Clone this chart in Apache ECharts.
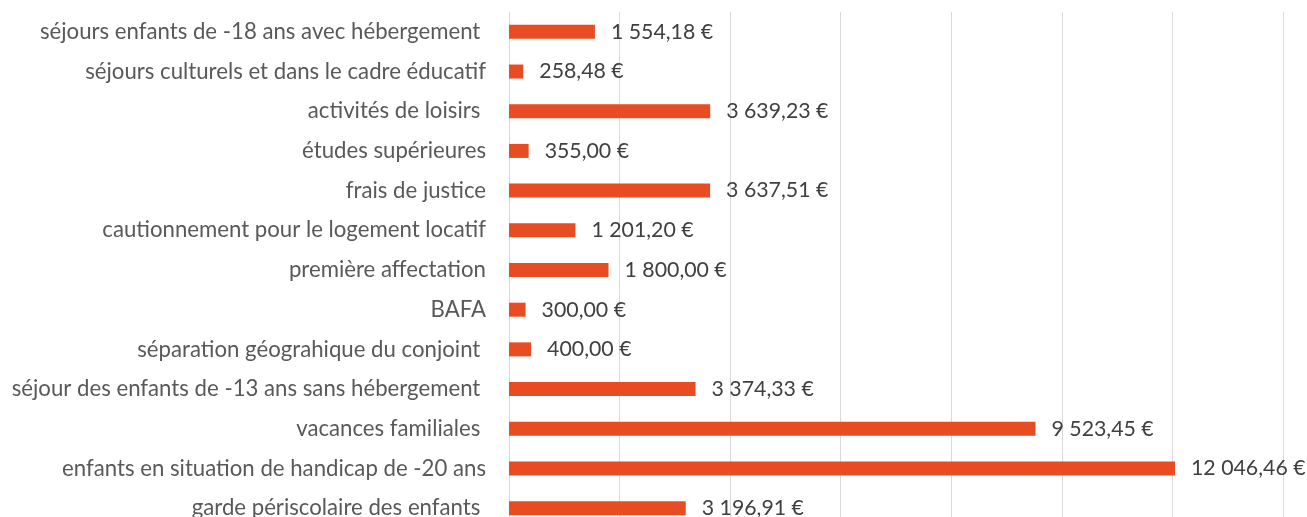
<!DOCTYPE html>
<html>
<head>
<meta charset="utf-8">
<script src="https://cdn.jsdelivr.net/npm/echarts@6/dist/echarts.min.js"></script>
<style>
  html, body { margin: 0; padding: 0; background: #ffffff; }
  #chart { width: 1307px; height: 517px; }
</style>
</head>
<body>
<div id="chart"></div>
<script>
// Aid categories, listed top to bottom
const categories = [
  'séjours enfants de -18 ans avec hébergement ',
  'séjours culturels et dans le cadre éducatif',
  'activités de loisirs ',
  'études supérieures',
  'frais de justice',
  'cautionnement pour le logement locatif',
  'première affectation',
  'BAFA',
  'séparation géograhique du conjoint ',
  'séjour des enfants de -13 ans sans hébergement ',
  'vacances familiales ',
  'enfants en situation de handicap de -20 ans',
  'garde périscolaire des enfants '
];

// Amount spent per category, in euros
const amounts = [
  1554.18, 258.48, 3639.23, 355.00, 3637.51, 1201.20, 1800.00,
  300.00, 400.00, 3374.33, 9523.45, 12046.46, 3196.91
];

// Value axis ticks
const axisMin = 0;
const axisMax = 14000;
const axisStep = 2000;

function euro(v) {
  const parts = v.toFixed(2).split('.');
  const intPart = parts[0].replace(/\B(?=(\d{3})+(?!\d))/g, ' ');
  return intPart + ',' + parts[1] + ' €';
}

const chart = echarts.init(document.getElementById('chart'), null, { renderer: 'canvas' });
chart.setOption({
  animation: false,
  backgroundColor: '#ffffff',
  textStyle: { fontFamily: 'Lato, "Open Sans", sans-serif' },
  // plot area runs past the bottom edge so the last row is cut off
  grid: {
    left: 509, width: 774, top: 12, height: 516,
    containLabel: false,
    outerBoundsMode: 'none'
  },
  xAxis: {
    type: 'value',
    min: axisMin,
    max: axisMax,
    interval: axisStep,
    axisLabel: { show: false },
    axisLine: { show: false },
    axisTick: { show: false },
    splitLine: { show: true, lineStyle: { color: '#d9d9d9', width: 1 } }
  },
  yAxis: {
    type: 'category',
    inverse: true,
    data: categories,
    axisLine: { show: true, lineStyle: { color: '#d9d9d9', width: 1 } },
    axisTick: { show: false },
    axisLabel: {
      color: '#595959',
      fontSize: 22.2,
      margin: 23,
      fontFamily: 'Lato, "Open Sans", sans-serif'
    }
  },
  series: [{
    type: 'bar',
    data: amounts,
    barWidth: 14,
    itemStyle: { color: '#e84c22' },
    label: {
      show: true,
      position: 'right',
      distance: 16,
      color: '#404040',
      fontSize: 21.3,
      fontFamily: 'Lato, "Open Sans", sans-serif',
      formatter: p => euro(p.value)
    }
  }]
});
</script>
</body>
</html>
